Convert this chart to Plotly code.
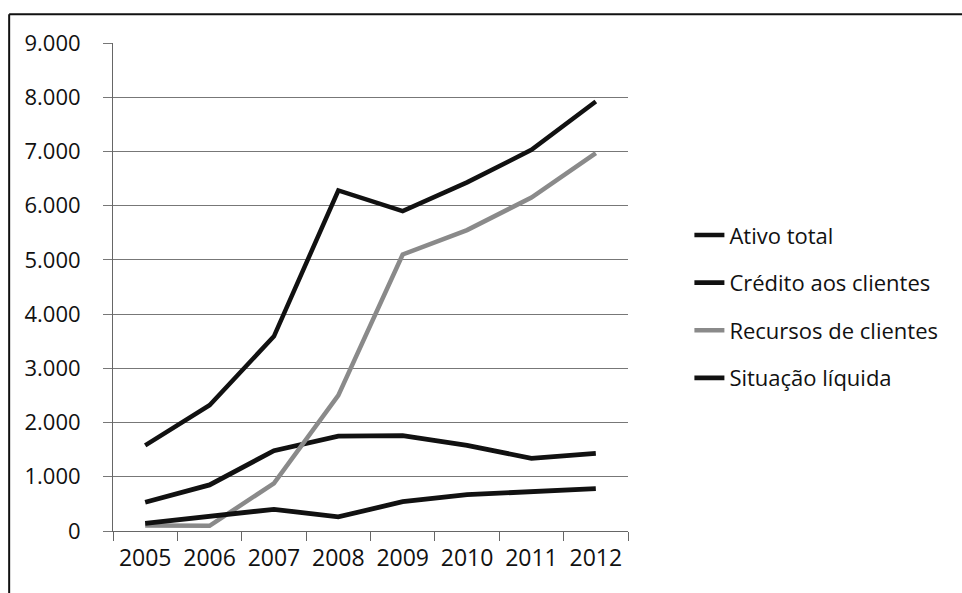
import plotly.graph_objects as go

# Annual series (values in thousands)
anos = ["2005", "2006", "2007", "2008", "2009", "2010", "2011", "2012"]
ativo_total = [1580, 2320, 3590, 6280, 5900, 6430, 7030, 7920]
credito_clientes = [530, 850, 1480, 1750, 1760, 1580, 1340, 1430]
recursos_clientes = [100, 95, 880, 2500, 5100, 5550, 6150, 6970]
situacao_liquida = [140, 270, 400, 260, 540, 670, 720, 780]
y_ticks = [0, 1000, 2000, 3000, 4000, 5000, 6000, 7000, 8000, 9000]

W, H = 962, 593
L, R, T, B = 112.7, 628.5, 42.7, 531.0  # plot area in pixels
FONT = "Open Sans"


def px_x(x):
    return (x - L) / (R - L)


def px_y(y):
    return (B - y) / (B - T)


fig = go.Figure()
series = [
    ("Ativo total", ativo_total, "#111111", 4.5),
    ("Crédito aos clientes", credito_clientes, "#111111", 4.8),
    ("Recursos de clientes", recursos_clientes, "#8a8a8a", 4.5),
    ("Situação líquida", situacao_liquida, "#111111", 4.8),
]
for name, vals, color, width in series:
    fig.add_trace(go.Scatter(
        x=anos, y=vals, name=name, mode="lines",
        line=dict(color=color, width=width),
        legendgroup=name,
    ))

fig.update_layout(
    width=W, height=H,
    margin=dict(l=L, r=W - R, t=T, b=H - B, pad=0),
    paper_bgcolor="white", plot_bgcolor="white",
    separators=",.",
    font=dict(family=FONT, color="#111111", size=22),
    showlegend=True,
    legend=dict(
        x=px_x(690), y=px_y(214), xanchor="left", yanchor="top",
        font=dict(family=FONT, size=22, color="#111111"),
        tracegroupgap=16, bgcolor="rgba(0,0,0,0)",
        itemwidth=30,
    ),
    xaxis=dict(
        type="category", range=[-0.5, 7.5],
        showgrid=False, showline=True, linecolor="#666666", linewidth=1,
        ticks="outside", tickson="boundaries", ticklen=9,
        tickcolor="#666666", tickwidth=1,
        tickfont=dict(family=FONT, size=23, color="#111111"),
        ticklabelstandoff=6,
    ),
    yaxis=dict(
        range=[0, 9000], tickvals=y_ticks, tickformat=",d",
        showgrid=True, gridcolor="#777777", gridwidth=1,
        showline=True, linecolor="#666666", linewidth=1,
        ticks="outside", ticklen=9, tickcolor="#777777", tickwidth=1,
        tickfont=dict(family=FONT, size=22, color="#111111"),
        ticklabelstandoff=18, zeroline=False,
    ),
    shapes=[
        # outer frame: top and left edges
        dict(type="line", xref="paper", yref="paper",
             x0=px_x(8.7), x1=px_x(W + 2), y0=px_y(14), y1=px_y(14),
             line=dict(color="#111111", width=2)),
        dict(type="line", xref="paper", yref="paper",
             x0=px_x(8.7), x1=px_x(8.7), y0=px_y(14), y1=px_y(H + 2),
             line=dict(color="#111111", width=2)),
    ],
)

fig.write_html("out.html")
